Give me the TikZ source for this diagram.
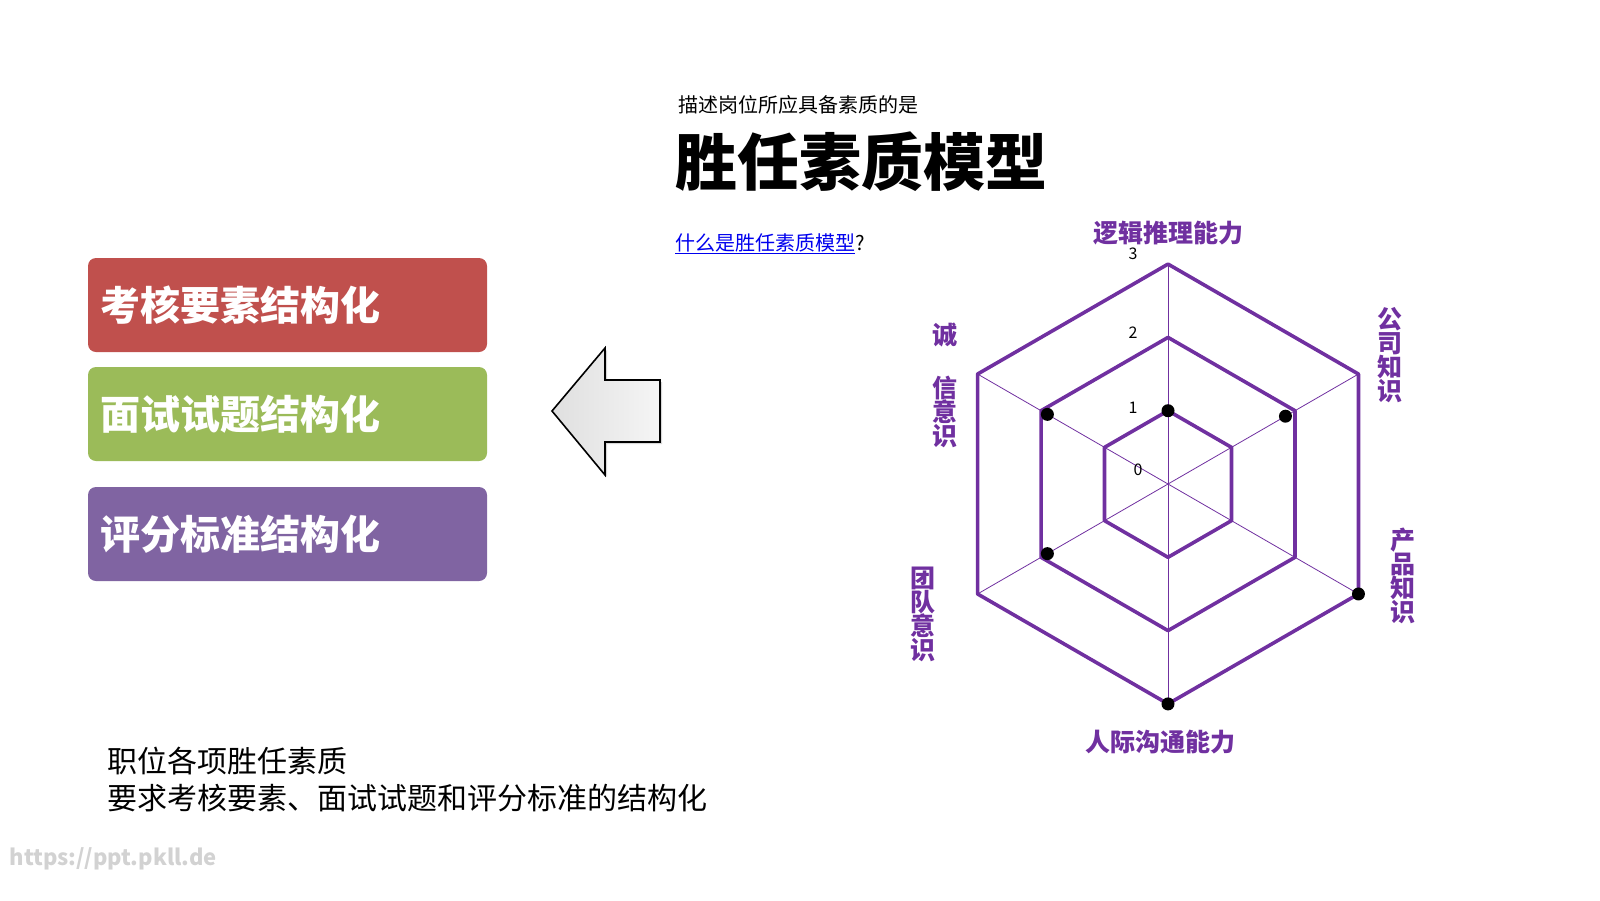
\documentclass[tikz,border=0pt]{standalone}
\usepackage{fontspec}
\setmainfont{Noto Sans CJK SC}
\usetikzlibrary{positioning,shadows,calc}
\definecolor{boxred}{RGB}{192,80,77}
\definecolor{boxgreen}{RGB}{155,187,89}
\definecolor{boxpurple}{RGB}{128,100,162}
\definecolor{radarpurple}{RGB}{112,48,160}
\definecolor{linkblue}{RGB}{0,0,238}
\tikzset{
  itembox/.style={rounded corners=8pt, minimum width=399pt, minimum height=94pt, text=white, font=\fontsize{40}{44}\selectfont\bfseries, text width=375pt, align=left, draw=none},
  axislabel/.style={text=radarpurple, font=\fontsize{25}{27}\selectfont\bfseries, inner sep=0pt},
  vlabel/.style={axislabel, text width=27pt, align=center},
  ring/.style={radarpurple, line width=3.6pt, line join=round},
  spoke/.style={radarpurple, line width=0.8pt},
  dot/.style={circle, fill=black, inner sep=0pt, minimum size=13pt}
}
\begin{document}
\begin{tikzpicture}[x=1pt, y=-1pt]
    \useasboundingbox (0,0) rectangle (1600,900);
    % Left boxes
    \node[itembox, fill=boxred] (exam) at (287.5,305) {考核要素结构化};
    \node[itembox, fill=boxgreen] (interview) at (287.5,414) {面试试题结构化};
    \node[itembox, fill=boxpurple] (score) at (287.5,534) {评分标准结构化};
    
    % Arrow
    \draw[line width=1.6pt, line join=miter, left color=gray!25, right color=gray!8, drop shadow={shadow xshift=2pt, shadow yshift=-2pt, fill=gray!60}]
        (552,411) -- (605,348) -- (605,380) -- (660,380) -- (660,442) -- (605,442) -- (605,475) -- cycle;
    
    % Title texts
    \node[anchor=west, font=\fontsize{20}{22}\selectfont] (intro) at (675,105) {描述岗位所应具备素质的是};
    \node[anchor=west, font=\fontsize{62}{66}\selectfont\bfseries] (title) at (672,162) {胜任素质模型};
    \node[anchor=west, font=\fontsize{20}{22}\selectfont, inner sep=0pt] (link) at (675,244) {\textcolor{linkblue}{\underline{什么是胜任素质模型}}?};
    
    % Radar chart
    \coordinate (c) at (1168,484);
    \foreach \r in {1,2,3} {
        \draw[ring] ($(c)+(-90:{73.3*\r})$) \foreach \a in {-30,30,90,150,210} { -- ($(c)+(\a:{73.3*\r})$) } -- cycle;
    }
    \foreach \a in {90,30,-30,-90,210,150} {
        \draw[spoke] (c) -- ($(c)+(\a:220)$);
    }
    \foreach \v/\y in {3/254,2/333,1/408,0/470} {
        \node[font=\fontsize{16}{18}\selectfont] (tick\v) at ({\v==0 ? 1138 : 1133},\y) {\v};
    }
    % Scores (angles measured downward because y is flipped)
    \foreach \a/\v in {-90/1,-30/1.85,30/3,90/3,150/1.9,210/1.9} {
        \node[dot] at ($(c)+(\a:{73.3*\v})$) {};
    }
    
    % Axis labels
    \node[axislabel] (logic) at (1168,233) {逻辑推理能力};
    \node[axislabel] (people) at (1160,742) {人际沟通能力};
    \node[vlabel] (company) at (1390,355) {公\\[-3pt]司\\[-3pt]知\\[-3pt]识};
    \node[vlabel] (product) at (1403,576) {产\\[-3pt]品\\[-3pt]知\\[-3pt]识};
    \node[vlabel] (honest) at (945,385) {诚\\[26pt]信\\[-3pt]意\\[-3pt]识};
    \node[vlabel] (team) at (923,614) {团\\[-3pt]队\\[-3pt]意\\[-3pt]识};
    
    % Bottom text
    \node[anchor=west, font=\fontsize{30}{37}\selectfont, align=left] (summary) at (104,780) {职位各项胜任素质\\要求考核要素、面试试题和评分标准的结构化};
    \node[anchor=west, text=gray!35, font=\fontsize{22}{24}\selectfont\bfseries] (mark) at (6,859) {https://ppt.pkll.de};
\end{tikzpicture}
\end{document}
